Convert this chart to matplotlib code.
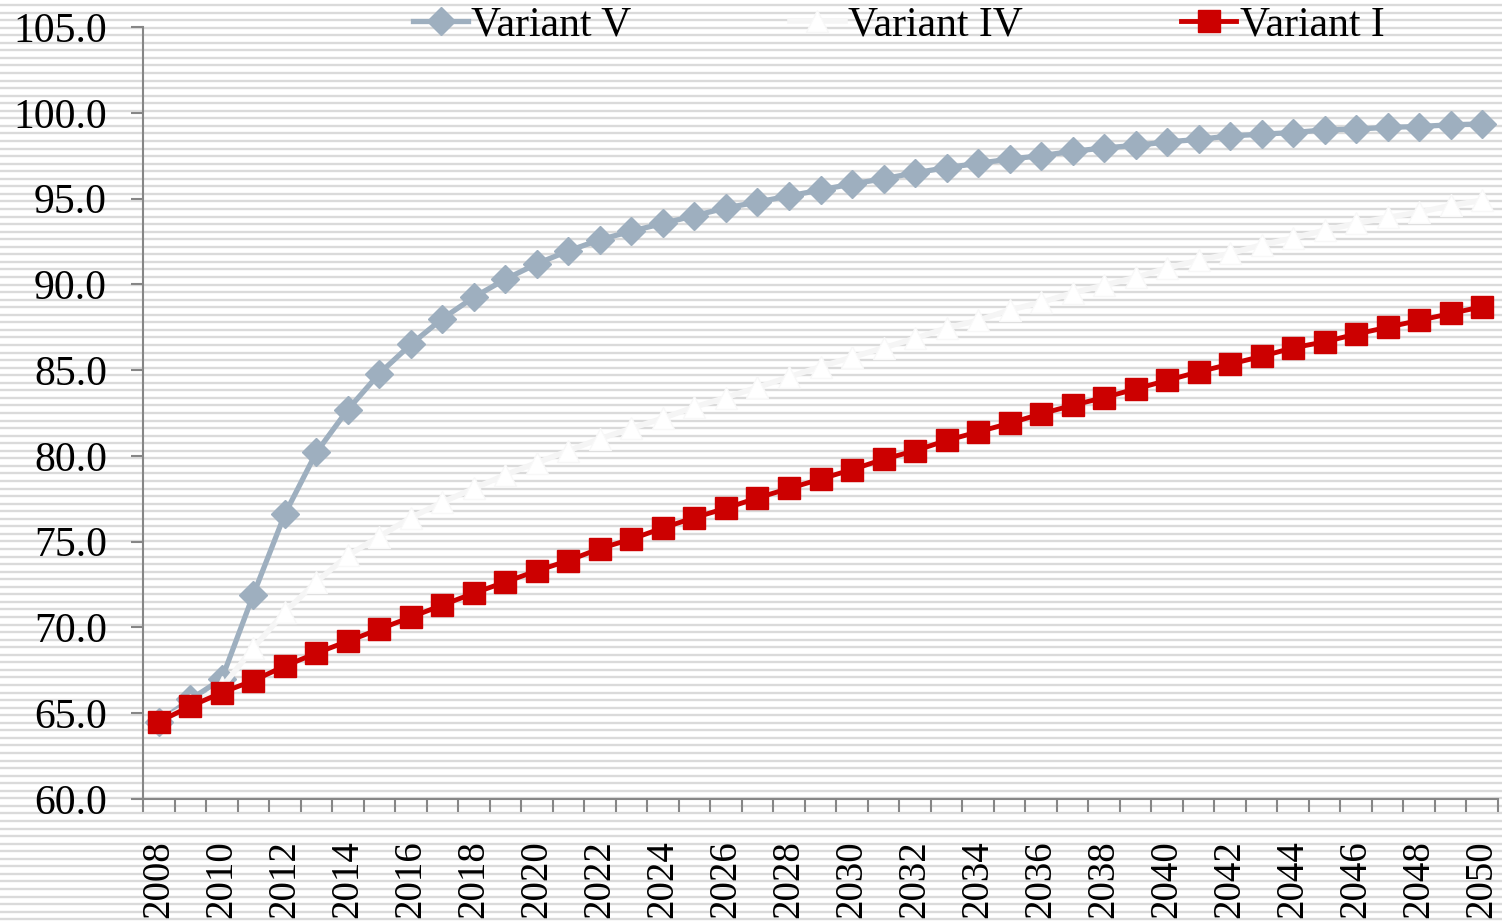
import numpy as np
import matplotlib
matplotlib.use("Agg")
import matplotlib.pyplot as plt

plt.rcParams["font.family"] = ["Liberation Serif", "DejaVu Serif"]

# series values per year
years = list(range(2008, 2051))
variant_v = [64.5, 65.8, 67.0, 71.9, 76.6, 80.2, 82.7, 84.8, 86.5, 88.0,
             89.25, 90.3, 91.2, 91.95, 92.6, 93.1, 93.55, 94.0, 94.45, 94.8,
             95.15, 95.5, 95.85, 96.15, 96.5, 96.8, 97.05, 97.3, 97.5, 97.75,
             97.95, 98.1, 98.3, 98.45, 98.65, 98.75, 98.85, 99.0, 99.05, 99.15,
             99.2, 99.3, 99.35]
variant_iv = [64.5, 65.5, 66.5, 68.8, 70.9, 72.65, 74.2, 75.3, 76.4, 77.3,
              78.1, 78.9, 79.6, 80.3, 81.0, 81.6, 82.2, 82.85, 83.4, 84.0,
              84.6, 85.2, 85.75, 86.3, 86.85, 87.45, 87.9, 88.5, 88.95, 89.5,
              89.95, 90.4, 90.95, 91.4, 91.8, 92.3, 92.7, 93.15, 93.55, 93.9,
              94.2, 94.6, 94.9]
variant_i = [64.5, 65.4, 66.2, 66.9, 67.75, 68.5, 69.2, 69.9, 70.6, 71.3,
             72.0, 72.65, 73.3, 73.9, 74.6, 75.15, 75.8, 76.4, 76.95, 77.55,
             78.1, 78.65, 79.2, 79.8, 80.3, 80.9, 81.4, 81.9, 82.45, 82.95,
             83.4, 83.9, 84.4, 84.9, 85.35, 85.8, 86.3, 86.65, 87.1, 87.5,
             87.9, 88.3, 88.7]

W, H = 1502, 922
FS = 30
fig = plt.figure(figsize=(W / 100, H / 100), dpi=100)

# striped background over the whole figure
bg = fig.add_axes([0, 0, 1, 1], zorder=-10)
bg.set_xlim(0, 1)
bg.set_ylim(H, 0)
bg.axis("off")
bg.hlines(np.arange(5, H, 7.556), 0, 1, color="#dadada", lw=1.7)

ax = fig.add_axes([143 / W, 1 - 799 / H, 1355 / W, 772 / H])
ax.patch.set_alpha(0)

x = np.arange(len(years))
ax.plot(x, variant_v, color="#9eafbf", lw=3.8, marker="D", ms=14,
        label="Variant V", zorder=3)
ax.plot(x, variant_iv, color="#f5f5f5", lw=4.0, marker="^", ms=16,
        mfc="white", mec="#f8f8f8", label="Variant IV", zorder=4)
ax.plot(x, variant_i, color="#cc0000", lw=3.5, marker="s", ms=16,
        label="Variant I", zorder=5)

ax.set_xlim(-0.5, len(years) - 0.5)
ax.set_ylim(60, 105)
ax.set_yticks(np.arange(60, 105.1, 5))
ax.set_yticklabels([f"{v:.1f}" for v in np.arange(60, 105.1, 5)])

ax.set_xticks(x[::2])
ax.set_xticklabels([str(y) for y in years[::2]], rotation=90)
ax.set_xticks(np.arange(-0.5, len(years), 1), minor=True)

for side in ("top", "right"):
    ax.spines[side].set_visible(False)
for side in ("left", "bottom"):
    ax.spines[side].set_color("#868686")
    ax.spines[side].set_linewidth(1.5)

ax.tick_params(axis="y", length=9, width=1.5, color="#868686",
               labelsize=FS, pad=17)
ax.tick_params(axis="x", which="major", length=0, labelsize=28, pad=29.5)
ax.tick_params(axis="x", which="minor", length=9, width=1.5, color="#868686")

ax.legend(loc="upper left", bbox_to_anchor=(413 / W, 1 - 6 / H),
          bbox_transform=fig.transFigure, ncol=3, frameon=False,
          fontsize=FS, handlelength=1.32, handletextpad=0.08,
          columnspacing=3.8, borderpad=0, borderaxespad=0)

fig.savefig("out.png", dpi=100)
